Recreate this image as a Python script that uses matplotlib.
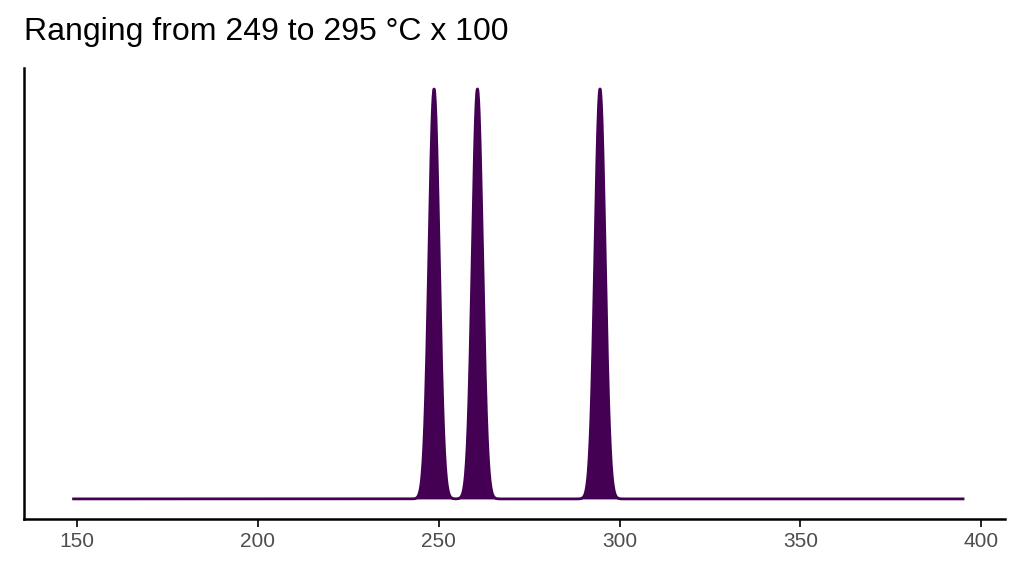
import matplotlib
matplotlib.use('Agg')
import matplotlib.pyplot as plt
import numpy as np

plt.rcParams['font.family'] = ['Liberation Sans', 'DejaVu Sans']

# observed temperatures (°C x 100) and kernel bandwidth
temperatures = [248.7, 260.7, 294.6]
bandwidth = 1.4
x_range = [149, 395]
x_ticks = [150, 200, 250, 300, 350, 400]

grid = np.linspace(x_range[0], x_range[1], 3000)
density = np.zeros_like(grid)
for t in temperatures:
    density += np.exp(-0.5 * ((grid - t) / bandwidth) ** 2)
density /= density.max()

fig = plt.figure(figsize=(10.24, 5.76), dpi=100)
ax = fig.add_axes([24/1024, 57/576, (1005-24)/1024, (519-68)/576])
color = '#440154'
ax.fill_between(grid, 0, density, color=color, linewidth=0)
ax.plot(grid, density, color=color, linewidth=2)

ax.set_xlim(135.3, 406.6)
ax.set_ylim(-0.049, 1.051)
ax.set_xticks(x_ticks)
ax.set_yticks([])
for s in ['top', 'right']:
    ax.spines[s].set_visible(False)
for s in ['left', 'bottom']:
    ax.spines[s].set_linewidth(1.8)
ax.tick_params(axis='x', labelsize=15, colors='#000000', labelcolor='#4d4d4d',
               width=1.2, length=6)
fig.text(24/1024, 1 - 32/576, 'Ranging from 249 to 295 °C x 100', fontsize=23,
         ha='left', va='center')

fig.savefig('out.png', dpi=100)
